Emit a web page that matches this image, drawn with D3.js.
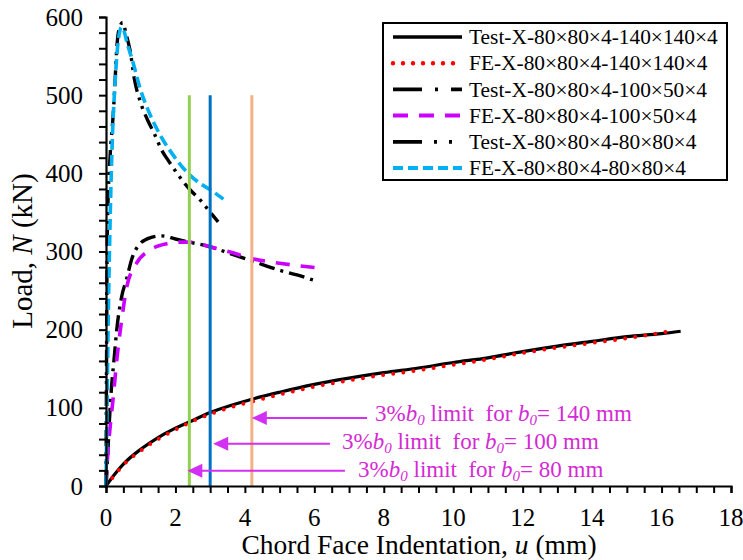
<!DOCTYPE html>
<html>
<head>
<meta charset="utf-8">
<script src="https://cdn.jsdelivr.net/npm/d3@7/dist/d3.min.js"></script>
<style>
  html, body { margin: 0; padding: 0; background: #fff; }
  svg { display: block; font-family: "Liberation Serif", "Times New Roman", serif; }
</style>
</head>
<body>
<svg id="chart" width="743" height="560"></svg>
<script>
// Load–indentation curves for X-joints (chord face indentation u, load N)
const test140U = [0, 0.25, 0.5, 1, 1.5, 2, 2.4, 3, 4.2, 5, 6, 7, 8, 9, 10, 11, 12, 13, 14, 15, 16, 16.55];
const test140N = [0, 15, 28, 47, 62, 74, 82, 94, 111, 120, 130, 138, 145, 151, 158, 164, 172, 179, 185, 191, 195, 198];

const fe140U = [0, 0.25, 0.5, 1, 1.5, 2, 2.4, 3, 4.2, 5, 6, 7, 8, 9, 10, 11, 12, 13, 14, 15, 16, 16.25];
const fe140N = [0, 14, 27, 45, 60, 72, 81, 92, 108, 117, 127, 135, 142, 148, 155, 162, 170, 177, 183, 189, 196, 198];

const test100U = [0, 0.05, 0.1, 0.16, 0.23, 0.31, 0.45, 0.6, 0.74, 0.98, 1.3, 1.6, 2.0, 2.4, 3.0, 3.6, 4.2, 5.0, 5.5, 6.0];
const test100N = [0, 40, 85, 127, 161, 200, 242, 266, 290, 310, 318, 320, 316, 312, 306, 297, 288, 276, 270, 263];

const fe100U = [0, 0.04, 0.12, 0.21, 0.31, 0.45, 0.6, 0.88, 1.27, 1.75, 2.1, 2.4, 3.0, 3.6, 4.2, 5.0, 5.5, 6.1];
const fe100N = [0, 33, 76, 114, 161, 212, 255, 285, 302, 310, 312, 312, 306, 299, 291, 285, 282, 279];

const test80U = [0, 0.01, 0.02, 0.03, 0.05, 0.12, 0.21, 0.26, 0.31, 0.38, 0.48, 0.58, 0.69, 0.82, 1.0, 1.2, 1.4, 1.6, 1.8, 2.0, 2.23, 2.42, 2.71, 2.95, 3.23];
const test80N = [0, 100, 200, 290, 350, 423, 477, 517, 560, 585, 593, 578, 558, 520, 490, 468, 450, 430, 416, 403, 389, 379, 366, 353, 338];

const fe80U = [0, 0.03, 0.06, 0.1, 0.14, 0.19, 0.26, 0.32, 0.38, 0.45, 0.52, 0.6, 0.79, 0.98, 1.27, 1.56, 1.94, 2.32, 2.71, 3.0, 3.38];
const fe80N = [0, 100, 200, 300, 380, 453, 515, 555, 578, 587, 582, 568, 540, 509, 475, 449, 423, 402, 387, 379, 367];

const seriesNames = [
  "Test-X-80×80×4-140×140×4",
  "FE-X-80×80×4-140×140×4",
  "Test-X-80×80×4-100×50×4",
  "FE-X-80×80×4-100×50×4",
  "Test-X-80×80×4-80×80×4",
  "FE-X-80×80×4-80×80×4"
];

// 3% of chord width b0 deformation limits
const chordWidths = [140, 100, 80];
const limitU = [4.2, 3.0, 2.4];
const limitTopN = 500;

const xTicks = [0, 2, 4, 6, 8, 10, 12, 14, 16, 18];
const yTicks = [0, 100, 200, 300, 400, 500, 600];

// ---- styles ----
const styles = [
  { color: "#000000", width: 3.2, dash: null, cap: "butt", legendDash: null },
  { color: "#FF0000", width: 4, dash: "0 10.2", cap: "round", legendDash: "0 10" },
  { color: "#000000", width: 3.4, dash: "16 6 3 6", cap: "butt", legendDash: "29 13 3 13" },
  { color: "#CC00FF", width: 3.6, dash: "14 11", cap: "butt", legendDash: "15 11" },
  { color: "#000000", width: 3.4, dash: "16 6 3 6 3 6", cap: "butt", legendDash: "29 12 3 12 3 12" },
  { color: "#00B0F0", width: 3.6, dash: "11 5", cap: "butt", legendDash: "10 5" }
];
const limitColors = ["#F4B183", "#0070C0", "#92D050"];
const annoColor = "#D42AD4";
const arrowColor = "#D230F2";

const svg = d3.select("#chart");

const x = d3.scaleLinear().domain([0, 18]).range([106, 731]);
const y = d3.scaleLinear().domain([0, 600]).range([486, 17]);

const seriesData = [
  d3.zip(test140U, test140N),
  d3.zip(fe140U, fe140N),
  d3.zip(test100U, test100N),
  d3.zip(fe100U, fe100N),
  d3.zip(test80U, test80N),
  d3.zip(fe80U, fe80N)
];

const line = d3.line()
  .x(d => x(d[0]))
  .y(d => y(d[1]))
  .curve(d3.curveMonotoneX);

// ---- curves ----
const gCurves = svg.append("g");
seriesData.forEach((data, i) => {
  const s = styles[i];
  gCurves.append("path")
    .attr("d", line(data))
    .attr("fill", "none")
    .attr("stroke", s.color)
    .attr("stroke-width", s.width)
    .attr("stroke-linecap", s.cap)
    .attr("stroke-linejoin", "round")
    .attr("stroke-dasharray", s.dash);
});

// ---- vertical limit lines ----
svg.append("g").selectAll("line")
  .data(limitU)
  .join("line")
  .attr("x1", d => x(d)).attr("x2", d => x(d))
  .attr("y1", y(0)).attr("y2", y(limitTopN))
  .attr("stroke", (d, i) => limitColors[i])
  .attr("stroke-width", 3);

// ---- axes ----
const xAxis = d3.axisBottom(x)
  .tickValues(d3.range(0, 18.01, 0.5))
  .tickSize(7)
  .tickFormat("");
const gx = svg.append("g").attr("transform", `translate(0,${y(0)})`).call(xAxis);

const yAxis = d3.axisLeft(y)
  .tickValues(d3.range(0, 600.1, 20))
  .tickSize(7)
  .tickFormat("");
const gy = svg.append("g").attr("transform", `translate(${x(0)},0)`).call(yAxis);

[gx, gy].forEach(g => {
  g.select(".domain").attr("stroke", "#000").attr("stroke-width", 2.2);
  g.selectAll(".tick line").attr("stroke", "#000").attr("stroke-width", 2);
});

svg.append("g").selectAll("text")
  .data(xTicks)
  .join("text")
  .attr("x", d => x(d))
  .attr("y", 526)
  .attr("text-anchor", "middle")
  .attr("font-size", 25)
  .attr("fill", "#000")
  .text(d => d);

svg.append("g").selectAll("text")
  .data(yTicks)
  .join("text")
  .attr("x", 83)
  .attr("y", d => y(d))
  .attr("dy", "0.34em")
  .attr("text-anchor", "end")
  .attr("font-size", 25)
  .attr("fill", "#000")
  .text(d => d);

// axis titles
const xt = svg.append("text")
  .attr("x", 419).attr("y", 554)
  .attr("text-anchor", "middle")
  .attr("font-size", 27.5)
  .attr("fill", "#000");
xt.append("tspan").text("Chord Face Indentation, ");
xt.append("tspan").attr("font-style", "italic").text("u");
xt.append("tspan").text(" (mm)");

const yt = svg.append("text")
  .attr("transform", "translate(32,251) rotate(-90)")
  .attr("text-anchor", "middle")
  .attr("font-size", 29)
  .attr("fill", "#000");
yt.append("tspan").text("Load, ");
yt.append("tspan").attr("font-style", "italic").text("N");
yt.append("tspan").text(" (kN)");

// ---- annotations: arrows pointing at the 3% b0 limits ----
const annoLayout = [
  { arrowN: 87, textDy: 3, tailU: 7.52, textU: 7.75, tipDx: 0 },
  { arrowN: 54, textDy: 5, tailU: 6.45, textU: 6.8, tipDx: 3 },
  { arrowN: 19.5, textDy: 6, tailU: 6.88, textU: 7.26, tipDx: -2 }
];

const gAnno = svg.append("g");
chordWidths.forEach((b0, i) => {
  const L = annoLayout[i];
  const yy = y(L.arrowN);
  const tip = x(limitU[i]) + L.tipDx;
  const headLen = 15, headHalf = 7;
  gAnno.append("line")
    .attr("x1", x(L.tailU)).attr("x2", tip + headLen - 1)
    .attr("y1", yy).attr("y2", yy)
    .attr("stroke", arrowColor)
    .attr("stroke-width", 2);
  gAnno.append("path")
    .attr("d", `M${tip},${yy} L${tip + headLen},${yy - headHalf} L${tip + headLen},${yy + headHalf} Z`)
    .attr("fill", arrowColor);

  const t = gAnno.append("text")
    .attr("x", x(L.textU))
    .attr("y", yy + L.textDy)
    .attr("font-size", 23)
    .attr("fill", annoColor)
    .style("white-space", "pre");
  t.append("tspan").text("3%");
  t.append("tspan").attr("font-style", "italic").text("b");
  t.append("tspan").attr("font-style", "italic").attr("font-size", 15).attr("dy", 4).text("0");
  t.append("tspan").attr("dy", -4).text(" limit  for ");
  t.append("tspan").attr("font-style", "italic").text("b");
  t.append("tspan").attr("font-style", "italic").attr("font-size", 15).attr("dy", 4).text("0");
  t.append("tspan").attr("dy", -4).text("= " + b0 + " mm");
});

// ---- legend ----
const leg = svg.append("g");
leg.append("rect")
  .attr("x", 383).attr("y", 23)
  .attr("width", 344).attr("height", 157)
  .attr("fill", "#fff")
  .attr("stroke", "#000")
  .attr("stroke-width", 2);

seriesNames.forEach((name, i) => {
  const s = styles[i];
  const cy = 37 + i * 26.2;
  leg.append("line")
    .attr("x1", 393).attr("x2", 462)
    .attr("y1", cy).attr("y2", cy)
    .attr("stroke", s.color)
    .attr("stroke-width", s.width + 0.4)
    .attr("stroke-linecap", s.cap)
    .attr("stroke-dasharray", s.legendDash);
  leg.append("text")
    .attr("x", 469).attr("y", cy)
    .attr("dy", "0.34em")
    .attr("font-size", 21.4)
    .attr("fill", "#000")
    .text(name);
});
</script>
</body>
</html>
